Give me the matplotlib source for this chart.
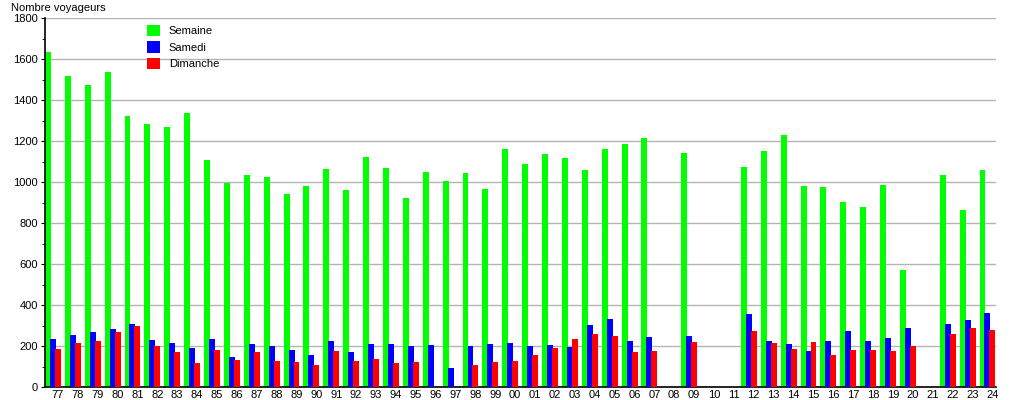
import matplotlib
matplotlib.use("Agg")
import matplotlib.pyplot as plt
import numpy as np

plt.rcParams['font.family'] = ['Liberation Sans', 'DejaVu Sans']

nan = np.nan
annees = ['77', '78', '79', '80', '81', '82', '83', '84', '85', '86', '87', '88',
          '89', '90', '91', '92', '93', '94', '95', '96', '97', '98', '99', '00',
          '01', '02', '03', '04', '05', '06', '07', '08', '09', '10', '11', '12',
          '13', '14', '15', '16', '17', '18', '19', '20', '21', '22', '23', '24']

semaine = [1636, 1517, 1475, 1538, 1323, 1284, 1270, 1337, 1107, 997, 1034, 1026,
           941, 982, 1065, 961, 1122, 1067, 922, 1049, 1005, 1045, 966, 1161,
           1088, 1137, 1117, 1059, 1161, 1185, 1215, nan, 1141, nan, nan, 1073,
           1151, 1229, 980, 976, 902, 878, 985, 571, nan, 1034, 863, 1059]

samedi = [234, 254, 268, 283, 307, 229, 215, 190, 234, 146, 210, 200,
          181, 156, 224, 171, 210, 210, 200, 205, 93, 200, 210, 215,
          200, 205, 195, 302, 332, 224, 244, nan, 249, nan, nan, 356,
          224, 210, 176, 224, 273, 224, 239, 288, nan, 307, 327, 361]

dimanche = [185, 215, 224, 268, 298, 200, 171, 117, 181, 132, 171, 127,
            122, 107, 176, 127, 137, 117, 122, nan, nan, 107, 122, 127,
            156, 190, 234, 259, 249, 171, 176, nan, 220, nan, nan, 273,
            215, 185, 220, 156, 181, 181, 176, 200, nan, 259, 288, 278]

x = np.arange(len(annees))
w = 0.3

fig = plt.figure(figsize=(10.15, 4.0), dpi=100)
ax = fig.add_axes([0.0443, 0.0325, 0.9370, 0.9225])

ax.bar(x - 0.5, semaine, w, color='#00ff00', label='Semaine', zorder=2)
ax.bar(x - 0.25, samedi, w, color='#0000ff', label='Samedi', zorder=3)
ax.bar(x, dimanche, w, color='#ff0000', label='Dimanche', zorder=4)

ax.set_xlim(-0.65, 47.18)
ax.set_ylim(0, 1800)
ax.set_yticks(np.arange(0, 1801, 200))
ax.set_yticks(np.arange(100, 1800, 200), minor=True)
ax.set_xticks(x)
ax.set_xticklabels(annees)
ax.tick_params(axis='x', length=0, labelsize=8, pad=2)
ax.tick_params(axis='y', which='major', length=3, labelsize=8, pad=2)
ax.tick_params(axis='y', which='minor', length=2)

ax.grid(axis='y', color='#b4b4b4', linewidth=1, zorder=0)
ax.set_axisbelow(True)
for s in ['top', 'right']:
    ax.spines[s].set_visible(False)
ax.spines['left'].set_linewidth(1.2)
ax.spines['bottom'].set_linewidth(1.2)

fig.text(0.011, 0.992, 'Nombre voyageurs', fontsize=8, va='top', ha='left')

ax.legend(loc='upper left', bbox_to_anchor=(0.1, 1.0), frameon=False, fontsize=8,
          handlelength=1.2, handleheight=1.2, handletextpad=0.8, labelspacing=0.45,
          borderaxespad=0.2)

fig.savefig('out.png', dpi=100)
